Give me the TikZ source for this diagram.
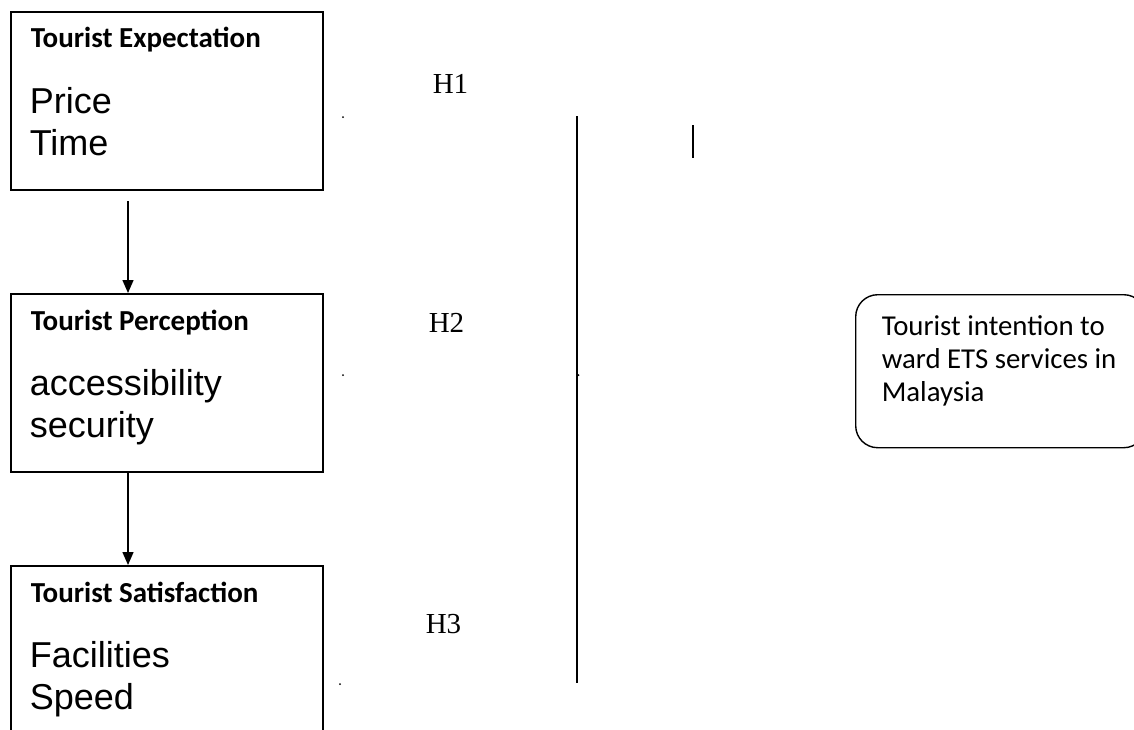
\documentclass[tikz,border=0pt]{standalone}
\usepackage{fontspec}
\setmainfont{Liberation Serif}
\newfontfamily\arialfont{Liberation Sans}
\newfontfamily\calfont{Carlito}
\usetikzlibrary{arrows.meta}
\begin{document}
\begin{tikzpicture}[x=1pt,y=-1pt,
  line width=1.6pt,
  factorbox/.style={draw, line width=1.6pt, rectangle, anchor=north west, inner sep=0pt,
    minimum width=312pt, minimum height=178pt},
  headtext/.style={anchor=base west, inner sep=0pt, font=\calfont\bfseries\fontsize{29}{34}\selectfont},
  itemtext/.style={anchor=base west, inner sep=0pt,
    font=\arialfont\fontsize{36}{42}\selectfont},
  hyptext/.style={anchor=base west, inner sep=0pt, font=\fontsize{29}{34}\selectfont},
  outcomebox/.style={draw, line width=1.4pt, rounded corners=22pt, anchor=north west, inner sep=0pt,
    minimum width=290pt, minimum height=153pt},
  outcometext/.style={anchor=base west, inner sep=0pt,
    font=\calfont\fontsize{28.8}{33}\selectfont},
  flow/.style={-{Triangle[width=11pt,length=13pt]}, line width=1.4pt},
  dotmark/.style={circle, fill=black, inner sep=0pt, minimum size=2pt}]
\useasboundingbox (0,0) rectangle (1134,729);
\clip (0,0) rectangle (1134,729);
\fill[white] (0,0) rectangle (1134,729);

% factor boxes
\node[factorbox] (expect) at (10,11) {};
\node[factorbox] (percep) at (10,293) {};
\node[factorbox, minimum height=200pt] (satis) at (10,565) {};

\node[headtext] (expectT) at (30,47) {Tourist Expectation};
\node[itemtext] (expectA) at (29,113) {Price};
\node[itemtext] (expectB) at (29,155) {Time};
\node[headtext] (percepT) at (30,330) {Tourist Perception};
\node[itemtext] (percepA) at (29,395) {accessibility};
\node[itemtext] (percepB) at (29,437) {security};
\node[headtext] (satisT) at (30,602) {Tourist Satisfaction};
\node[itemtext] (satisA) at (29,667) {Facilities};
\node[itemtext] (satisB) at (29,709) {Speed};

% arrows between factors
\coordinate (a1) at (128,201);
\coordinate (a2) at (128,472);
\draw[flow] (a1) -- (percep.north -| a1);
\draw[flow] (a2) -- (satis.north -| a2);

% hypothesis labels
\node[hyptext] (h1) at (432,93) {H1};
\node[hyptext] (h2) at (428,332) {H2};
\node[hyptext] (h3) at (425,633) {H3};

% stray marks
\node[dotmark] (d1) at (343,117) {};
\node[dotmark] (d2) at (343,375) {};
\node[dotmark] (d3) at (340,684) {};
\node[dotmark] (d4) at (578.5,375) {};

% vertical lines
\coordinate (v1) at (577,116);
\coordinate (v2) at (577,683);
\draw[line width=1.6pt] (v1) -- (v2);
\coordinate (t1) at (693,125);
\coordinate (t2) at (693,158);
\draw[line width=1.6pt] (t1) -- (t2);

% outcome box
\node[outcomebox] (outcome) at (855,294) {};
\node[outcometext] (outcomeA) at (881,335) {Tourist intention to};
\node[outcometext] (outcomeB) at (881,368) {ward ETS services in};
\node[outcometext] (outcomeC) at (881,401) {Malaysia};
\end{tikzpicture}
\end{document}
